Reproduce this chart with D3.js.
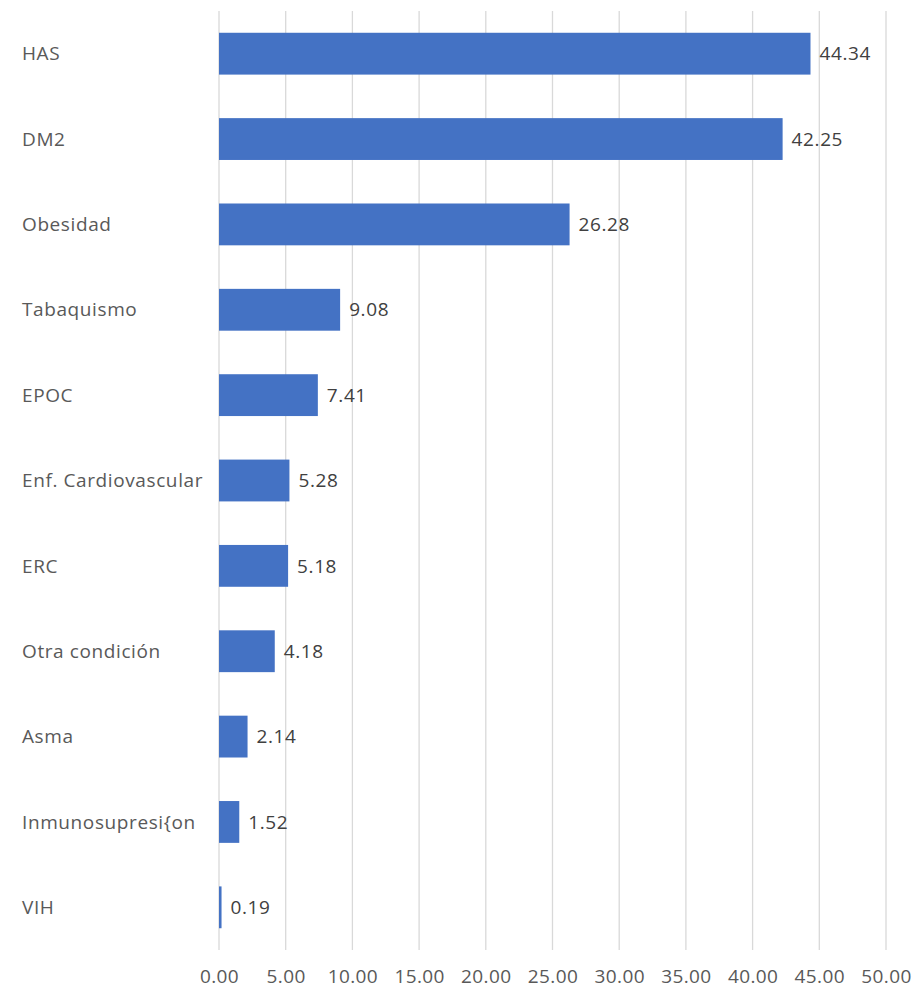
<!DOCTYPE html>
<html><head><meta charset="utf-8">
<script src="https://cdn.jsdelivr.net/npm/d3@7"></script>
<style>body{margin:0;background:#fff}svg{display:block}</style>
</head><body>
<script>
const categories = ["HAS","DM2","Obesidad","Tabaquismo","EPOC","Enf. Cardiovascular","ERC","Otra condición","Asma","Inmunosupresi{on","VIH"];
const values = [44.34,42.25,26.28,9.08,7.41,5.28,5.18,4.18,2.14,1.52,0.19];
const ticks = [0,5,10,15,20,25,30,35,40,45,50];

const W=914,H=991;
const svg=d3.select("body").append("svg").attr("width",W).attr("height",H);
const font="'Open Sans', 'Noto Sans', sans-serif";
const fs=19;
const x=d3.scaleLinear().domain([0,50]).range([219,886]);
const y=d3.scaleBand().domain(categories).range([11,950]).paddingInner(0.51).paddingOuter(0.255);

svg.append("g").selectAll("line").data(ticks).join("line")
  .attr("x1",d=>x(d)).attr("x2",d=>x(d)).attr("y1",11).attr("y2",950)
  .attr("stroke","#d9d9d9").attr("stroke-width",1.3);

svg.append("g").selectAll("rect").data(values).join("rect")
  .attr("x",x(0)).attr("y",(d,i)=>y(categories[i]))
  .attr("width",d=>x(d)-x(0)).attr("height",y.bandwidth())
  .attr("fill","#4472c4");

svg.append("g").selectAll("text").data(values).join("text")
  .attr("x",d=>x(d)+9).attr("y",(d,i)=>y(categories[i])+y.bandwidth()/2)
  .attr("dy","0.35em").attr("font-family",font).attr("font-size",fs).attr("letter-spacing",0.6).attr("fill","#404040")
  .text(d=>d.toFixed(2));

svg.append("g").selectAll("text").data(categories).join("text")
  .attr("x",22).attr("y",d=>y(d)+y.bandwidth()/2)
  .attr("dy","0.35em").attr("font-family",font).attr("font-size",fs).attr("letter-spacing",0.6).attr("fill","#595959")
  .text(d=>d);

const ax=svg.append("g").attr("transform","translate(0,950)")
  .call(d3.axisBottom(x).tickValues(ticks).tickSize(0).tickPadding(20).tickFormat(d=>d.toFixed(2)));
ax.select(".domain").remove();
ax.selectAll("text").attr("font-family",font).attr("font-size",fs).attr("letter-spacing",0.4).attr("fill","#595959");
</script>
</body></html>
